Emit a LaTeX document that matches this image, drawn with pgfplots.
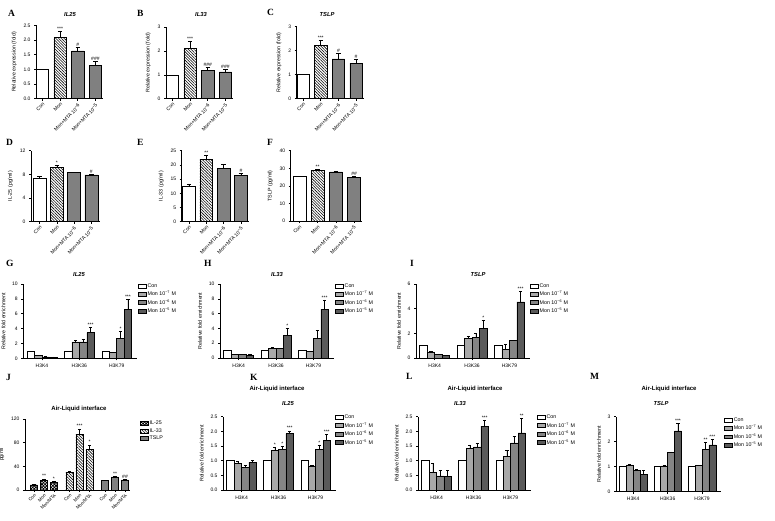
\documentclass[border=0pt]{standalone}
\usepackage{pgfplots}
\pgfplotsset{compat=1.18}
\usetikzlibrary{patterns.meta}
\usepackage{fontspec}
\setmainfont{Liberation Sans}
\newfontfamily\lett{Liberation Serif}
\definecolor{g1}{HTML}{A8A8A8}
\definecolor{g2}{HTML}{858585}
\definecolor{g3}{HTML}{5A5A5A}
\definecolor{gm}{HTML}{808080}
\pgfplotsset{
  pnl/.style={
    scale only axis, axis lines*=left, anchor=south west,
    ymin=0, clip=false,
    axis line style={line width=0.6pt},
    tick align=outside, major tick length=2pt,
    every tick/.style={black, line width=0.5pt},
    tick label style={font=\fontsize{5}{6}\selectfont},
    label style={font=\fontsize{5.3}{6}\selectfont},
    /pgf/number format/assume math mode=true,
    ybar, every axis plot/.append style={bar shift=0pt, draw=black, line width=0.55pt},
    legend image code/.code={\draw[##1, line width=0.55pt] (0pt,-1.8pt) rectangle (8pt,2pt);},
    legend style={draw=none, fill=none, font=\fontsize{5.3}{6}\selectfont, inner sep=0pt, row sep=0.6pt, nodes={inner sep=0.9pt}},
    legend cell align=left,
  },
  one/.style={xtick={1,2,3,4},
    xticklabels={Con,Mon,Mon+MTA 10\textsuperscript{−6},Mon+MTA 10\textsuperscript{−5}},
    xticklabel style={rotate=45, anchor=north east, font=\fontsize{5}{6}\selectfont, inner sep=1pt}},
  grp/.style={xmin=0.5, xmax=3.55, bar width=0.2, xtick={1,2,3}, xticklabels={H3K4,H3K36,H3K79},
    ylabel={Relative fold enrichment}},
  dec/.style={yticklabel style={/pgf/number format/.cd, fixed, fixed zerofill, precision=1}},
  err/.style={error bars/.cd, y dir=plus, y explicit,
    error bar style={line width=0.55pt, black, solid},
    error mark options={rotate=90, mark size=#1, line width=0.55pt, black, solid}},
  hatch/.style={pattern={Lines[angle=-45,distance=2pt,line width=0.55pt]}},
  cross/.style={pattern={Hatch[angle=45,distance=2.2pt,line width=0.8pt]}},
}
\newcommand{\st}[3]{\node[font=\fontsize{5}{5}\selectfont, anchor=south, inner sep=0.6pt] at (axis cs:#1,#2) {#3};}
\newcommand{\plet}[3]{\node[font=\lett\bfseries\fontsize{9.5}{10}\selectfont, anchor=west, inner sep=0pt] at (#1pt,-#2pt) {#3};}
\newcommand{\ptit}[3]{\node[font=\bfseries\itshape\fontsize{5.8}{6}\selectfont, inner sep=0pt] at (#1pt,-#2pt) {#3};}
\newcommand{\pali}[2]{\node[font=\bfseries\fontsize{6}{6}\selectfont, inner sep=0pt] at (#1pt,-#2pt) {Air-Liquid interface};}
\begin{document}
\begin{tikzpicture}
\useasboundingbox (0pt,0pt) rectangle (775pt,-520pt);
% ---------------- row 1
\plet{8}{13}{A}\plet{137}{13}{B}\plet{267}{12}{C}
\ptit{70}{15}{IL25}\ptit{201}{15}{IL33}\ptit{327}{15}{TSLP}
\begin{axis}[pnl, one, dec, at={(36pt,-98.7pt)}, width=67pt, height=73.4pt, xmin=0.64, xmax=4.43, ymax=2.5,
  ytick={0,0.5,1,1.5,2,2.5}, bar width=0.7, ylabel={Relative expression (fold)}]
\addplot[fill=white] coordinates {(1,1)};
\addplot[hatch, err=2.2pt] coordinates {(2,2.1) +- (0,0.18)};
\addplot[fill=gm, err=2.2pt] coordinates {(3,1.63) +- (0,0.12) (4,1.13) +- (0,0.13)};
\st{2}{2.28}{***}\st{3}{1.75}{\#}\st{4}{1.26}{\#\#\#}
\end{axis}
\begin{axis}[pnl, one, at={(166pt,-98.7pt)}, width=67pt, height=71.7pt, xmin=0.64, xmax=4.43, ymax=3,
  ytick={0,1,2,3}, bar width=0.7, ylabel={Relative expression (fold)}]
\addplot[fill=white] coordinates {(1,1)};
\addplot[hatch, err=2.2pt] coordinates {(2,2.12) +- (0,0.28)};
\addplot[fill=gm, err=2.2pt] coordinates {(3,1.2) +- (0,0.12) (4,1.12) +- (0,0.12)};
\st{2}{2.4}{***}\st{3}{1.32}{\#\#\#}\st{4}{1.24}{\#\#\#}
\end{axis}
\begin{axis}[pnl, one, at={(296.7pt,-98.7pt)}, width=67pt, height=72pt, xmin=0.64, xmax=4.43, ymax=3,
  ytick={0,1,2,3}, bar width=0.7, ylabel={Relative expression (fold)}]
\addplot[fill=white] coordinates {(1,1)};
\addplot[hatch, err=2.2pt] coordinates {(2,2.22) +- (0,0.22)};
\addplot[fill=gm, err=2.2pt] coordinates {(3,1.66) +- (0,0.22) (4,1.48) +- (0,0.15)};
\st{2}{2.44}{***}\st{3}{1.88}{\#}\st{4}{1.63}{\#}
\end{axis}
% ---------------- row 2
\plet{6}{142}{D}\plet{137}{142}{E}\plet{267}{142}{F}
\begin{axis}[pnl, one, at={(31pt,-221.7pt)}, width=69pt, height=71pt, xmin=0.5, xmax=4.5, ymax=12,
  ytick={0,4,8,12}, bar width=0.75, ylabel={IL-25 (pg/ml)}]
\addplot[fill=white, err=2.2pt] coordinates {(1,7.4) +- (0,0.2)};
\addplot[hatch, err=2.2pt] coordinates {(2,9.2) +- (0,0.4)};
\addplot[fill=gm, err=2.2pt] coordinates {(3,8.3) +- (0,0.1) (4,7.9) +- (0,0.1)};
\st{2}{9.6}{*}\st{4}{8.0}{\#}
\end{axis}
\begin{axis}[pnl, one, at={(181.7pt,-221.7pt)}, width=67pt, height=71pt, xmin=0.58, xmax=4.45, ymax=25,
  ytick={0,5,10,15,20,25}, bar width=0.73, ylabel={IL-33 (pg/ml)}]
\addplot[fill=white, err=2.2pt] coordinates {(1,12.5) +- (0,0.8)};
\addplot[hatch, err=2.2pt] coordinates {(2,22) +- (0,1.4)};
\addplot[fill=gm, err=2.2pt] coordinates {(3,18.8) +- (0,1.4) (4,16.3) +- (0,0.7)};
\st{2}{23.4}{**}\st{4}{17.0}{\#}
\end{axis}
\begin{axis}[pnl, one, at={(290.7pt,-221pt)}, width=71pt, height=70.3pt, xmin=0.52, xmax=4.42, ymax=40,
  ytick={0,10,20,30,40}, bar width=0.71, ylabel={TSLP (pg/ml)}]
\addplot[fill=white, err=2.2pt] coordinates {(1,25.2) +- (0,0.4)};
\addplot[hatch, err=2.2pt] coordinates {(2,28.7) +- (0,0.5)};
\addplot[fill=gm, err=2.2pt] coordinates {(3,27.9) +- (0,0.5) (4,25) +- (0,0.6)};
\st{2}{29.2}{**}\st{4}{25.6}{\#\#}
\end{axis}
% ---------------- row 3
\plet{6}{263}{G}\plet{204}{263}{H}\plet{410}{263}{I}
\ptit{79}{274}{IL25}\ptit{277}{274}{IL33}\ptit{478}{274}{TSLP}
\begin{axis}[pnl, grp, at={(23.3pt,-358.3pt)}, width=114pt, height=74.3pt, ymax=10, ytick={0,2,4,6,8,10},
  legend style={at={(1.006,1.02)}, anchor=north west}]
\addplot[fill=white] coordinates {(0.7,1) (1.7,1) (2.7,1)};
\addplot[fill=g1, err=1.6pt] coordinates {(0.9,0.35) +- (0,0.03) (1.9,2.2) +- (0,0.25) (2.9,0.75) +- (0,0.05)};
\addplot[fill=g2, err=1.6pt] coordinates {(1.1,0.2) +- (0,0.03) (2.1,2.2) +- (0,0.4) (3.1,2.65) +- (0,1.0)};
\addplot[fill=g3, err=1.6pt] coordinates {(1.3,0.15) +- (0,0.03) (2.3,3.45) +- (0,0.7) (3.3,6.6) +- (0,1.35)};
\st{2.3}{4.15}{***}\st{3.1}{3.65}{*}\st{3.3}{7.95}{***}
\legend{Con, Mon 10\textsuperscript{−7} M, Mon 10\textsuperscript{−6} M, Mon 10\textsuperscript{−5} M}
\end{axis}
\begin{axis}[pnl, grp, at={(220pt,-358pt)}, width=114pt, height=74pt, ymax=10, ytick={0,2,4,6,8,10},
  legend style={at={(1.009,1.02)}, anchor=north west}]
\addplot[fill=white] coordinates {(0.7,1) (1.7,1) (2.7,1)};
\addplot[fill=g1, err=1.6pt] coordinates {(0.9,0.5) +- (0,0.03) (1.9,1.35) +- (0,0.05) (2.9,0.85) +- (0,0.05)};
\addplot[fill=g2, err=1.6pt] coordinates {(1.1,0.45) +- (0,0.03) (2.1,1.3) +- (0,0.05) (3.1,2.6) +- (0,1.1)};
\addplot[fill=g3, err=1.6pt] coordinates {(1.3,0.4) +- (0,0.05) (2.3,3.05) +- (0,0.95) (3.3,6.6) +- (0,1.25)};
\st{2.3}{4.0}{*}\st{3.3}{7.85}{***}
\legend{Con, Mon 10\textsuperscript{−7} M, Mon 10\textsuperscript{−6} M, Mon 10\textsuperscript{−5} M}
\end{axis}
\begin{axis}[pnl, grp, at={(416pt,-358pt)}, width=114pt, height=74pt, ymax=6, ytick={0,2,4,6},
  legend style={at={(1.0,1.02)}, anchor=north west}]
\addplot[fill=white] coordinates {(0.7,1) (1.7,1) (2.7,1)};
\addplot[fill=g1, err=1.6pt] coordinates {(0.9,0.5) +- (0,0.03) (1.9,1.6) +- (0,0.2) (2.9,0.7) +- (0,0.4)};
\addplot[fill=g2, err=1.6pt] coordinates {(1.1,0.3) +- (0,0.03) (2.1,1.65) +- (0,0.35) (3.1,1.4) +- (0,0.03)};
\addplot[fill=g3, err=1.6pt] coordinates {(1.3,0.2) +- (0,0.03) (2.3,2.4) +- (0,0.65) (3.3,4.55) +- (0,0.85)};
\st{2.3}{3.05}{*}\st{3.3}{5.4}{***}
\legend{Con, Mon 10\textsuperscript{−7} M, Mon 10\textsuperscript{−6} M, Mon 10\textsuperscript{−5} M}
\end{axis}
% ---------------- row 4
\plet{6}{377}{J}\plet{250}{377}{K}\plet{406}{376}{L}\plet{590}{376}{M}
\pali{79}{409}\pali{277}{389}\pali{475}{389}\pali{669}{389}
\ptit{288}{403}{IL25}\ptit{460}{403}{IL33}\ptit{661}{403}{TSLP}
\begin{axis}[pnl, at={(25pt,-490pt)}, width=105pt, height=71pt, xmin=0.465, xmax=3.42, ymax=120,
  ytick={0,40,80,120}, bar width=0.205, ylabel={pg/ml},
  xtick={0.72,1,1.28,1.72,2,2.28,2.72,3,3.28},
  xticklabels={Con,Mon,Mon/MTA,Con,Mon,Mon/MTA,Con,Mon,Mon/MTA},
  xticklabel style={rotate=45, anchor=north east, font=\fontsize{4.6}{5}\selectfont, inner sep=1pt},
  legend style={at={(1.095,0.99)}, anchor=north west}]
\addplot[cross, err=1.6pt] coordinates {(0.72,8.5) +- (0,1) (1,15.8) +- (0,3) (1.28,12.5) +- (0,1.5)};
\addplot[hatch, err=1.6pt] coordinates {(1.72,30) +- (0,1) (2,94) +- (0,9) (2.28,69) +- (0,7)};
\addplot[fill=gm, err=1.6pt] coordinates {(2.72,15.8) +- (0,1) (3,22) +- (0,1.5) (3.28,17) +- (0,1.2)};
\st{1}{19}{**}\st{1.28}{14.2}{*}\st{2}{103.5}{***}\st{2.28}{76.5}{*}\st{3}{23.8}{**}\st{3.28}{18.5}{\#\#}
\legend{IL-25, IL-33, TSLP}
\end{axis}
\begin{axis}[pnl, grp, dec, at={(223pt,-490pt)}, width=113pt, height=73.3pt, ymax=2.5, ytick={0,0.5,1,1.5,2,2.5},
  legend style={at={(0.991,1.037)}, anchor=north west}]
\addplot[fill=white] coordinates {(0.7,1) (1.7,1) (2.7,1)};
\addplot[fill=g1, err=1.6pt] coordinates {(0.9,0.91) +- (0,0.06) (1.9,1.35) +- (0,0.1) (2.9,0.82) +- (0,0.03)};
\addplot[fill=g2, err=1.6pt] coordinates {(1.1,0.78) +- (0,0.07) (2.1,1.38) +- (0,0.1) (3.1,1.38) +- (0,0.15)};
\addplot[fill=g3, err=1.6pt] coordinates {(1.3,0.95) +- (0,0.07) (2.3,1.92) +- (0,0.1) (3.3,1.7) +- (0,0.2)};
\st{1.9}{1.46}{*}\st{2.1}{1.49}{*}\st{2.3}{2.03}{***}\st{3.1}{1.54}{*}\st{3.3}{1.91}{***}
\legend{Con, Mon 10\textsuperscript{−7} M, Mon 10\textsuperscript{−6} M, Mon 10\textsuperscript{−5} M}
\end{axis}
\begin{axis}[pnl, grp, dec, at={(418pt,-490pt)}, width=113pt, height=73.3pt, ymax=2.5, ytick={0,0.5,1,1.5,2,2.5},
  legend style={at={(1.053,1.037)}, anchor=north west}]
\addplot[fill=white] coordinates {(0.7,1) (1.7,1) (2.7,1)};
\addplot[fill=g1, err=1.6pt] coordinates {(0.9,0.6) +- (0,0.3) (1.9,1.42) +- (0,0.12) (2.9,1.14) +- (0,0.22)};
\addplot[fill=g2, err=1.6pt] coordinates {(1.1,0.48) +- (0,0.2) (2.1,1.47) +- (0,0.13) (3.1,1.61) +- (0,0.23)};
\addplot[fill=g3, err=1.6pt] coordinates {(1.3,0.46) +- (0,0.2) (2.3,2.18) +- (0,0.2) (3.3,1.95) +- (0,0.5)};
\st{2.3}{2.39}{***}\st{3.3}{2.46}{**}
\legend{Con, Mon 10\textsuperscript{−7} M, Mon 10\textsuperscript{−6} M, Mon 10\textsuperscript{−5} M}
\end{axis}
\begin{axis}[pnl, grp, at={(616pt,-491.7pt)}, width=105pt, height=75pt, ymax=3, ytick={0,1,2,3},
  legend style={at={(1.03,1.0)}, anchor=north west}]
\addplot[fill=white] coordinates {(0.7,1) (1.7,1) (2.7,1)};
\addplot[fill=g1, err=1.6pt] coordinates {(0.9,1.07) +- (0,0.03) (1.9,1.03) +- (0,0.02) (2.9,1.05) +- (0,0.02)};
\addplot[fill=g2, err=1.6pt] coordinates {(1.1,0.84) +- (0,0.05) (2.1,1.56) +- (0,0.03) (3.1,1.69) +- (0,0.28)};
\addplot[fill=g3, err=1.6pt] coordinates {(1.3,0.69) +- (0,0.15) (2.3,2.43) +- (0,0.3) (3.3,1.87) +- (0,0.22)};
\st{2.3}{2.74}{***}\st{3.1}{1.98}{**}\st{3.3}{2.1}{***}
\legend{Con, Mon 10\textsuperscript{−7} M, Mon 10\textsuperscript{−6} M, Mon 10\textsuperscript{−5} M}
\end{axis}
\end{tikzpicture}
\end{document}
